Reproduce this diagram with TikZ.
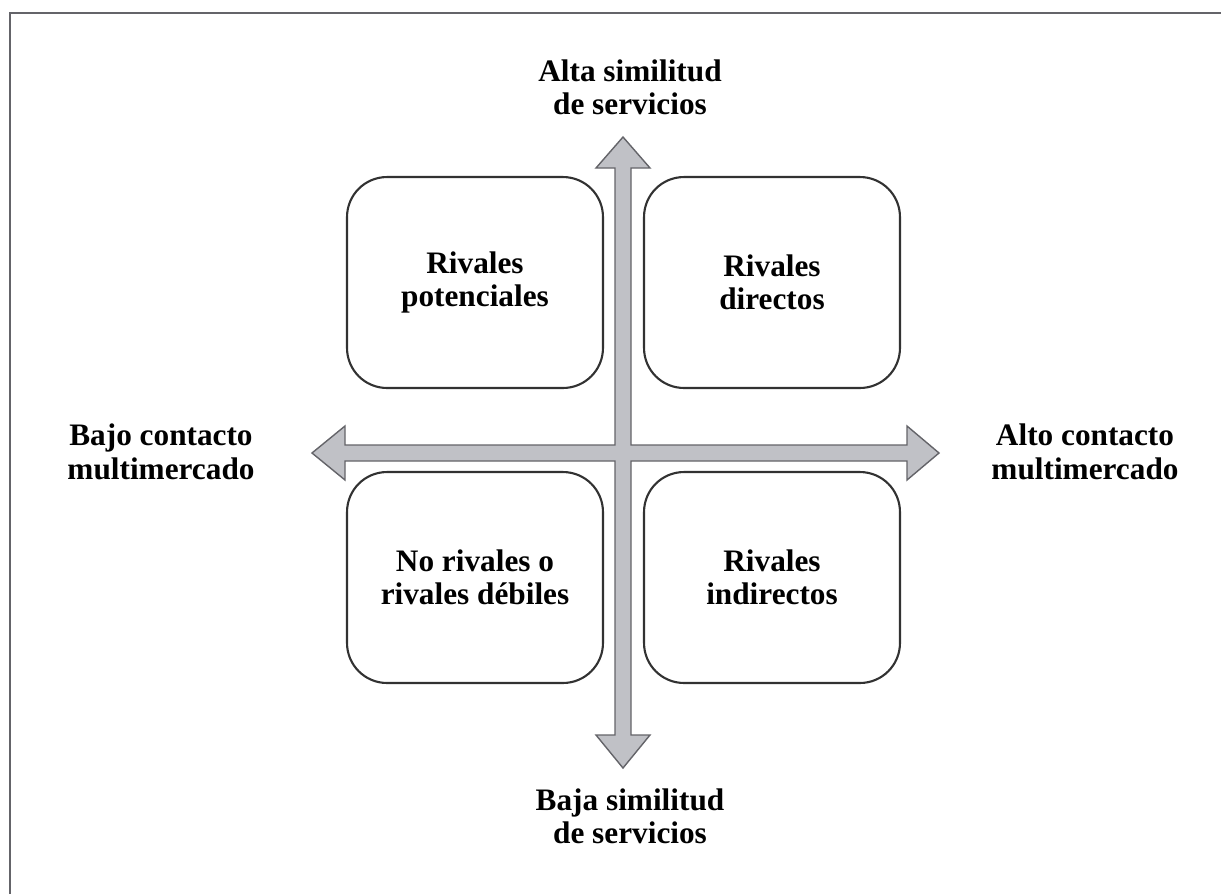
\documentclass[tikz,border=0pt]{standalone}
\usepackage{fontspec}
\setmainfont{Liberation Serif}
\usetikzlibrary{positioning}

\definecolor{axisfill}{RGB}{192,193,198}
\definecolor{axisline}{RGB}{100,100,105}
\definecolor{boxline}{RGB}{50,50,50}

\tikzset{
  quad/.style={draw=boxline, line width=1.2pt, rounded corners=0.8cm,
    minimum width=5.12cm, minimum height=4.22cm, align=center,
    font=\fontsize{17.8}{19}\selectfont\bfseries},
  axislabel/.style={align=center, font=\fontsize{17.8}{19}\selectfont\bfseries}
}

\begin{document}
\begin{tikzpicture}[x=0.02cm, y=-0.02cm]
		\useasboundingbox (0,0) rectangle (1221,894);
		% frame
		\draw[axisline, line width=1.3pt] (10,894) -- (10,13) -- (1221,13);
		% quadrants
		\node[quad] (pot) at (475,282.5) {Rivales\\potenciales};
		\node[quad] (dir) at (772,282.5) {Rivales\\directos};
		\node[quad] (deb) at (475,577.5) {No rivales o\\rivales d\'ebiles};
		\node[quad] (ind) at (772,577.5) {Rivales\\indirectos};
		% axes
		\draw[fill=axisfill, draw=axisline, line width=0.8pt, line join=miter]
			(623,137) -- (650,168) -- (631,168) -- (631,445) -- (907,445) -- (907,426)
			-- (939,453) -- (907,480) -- (907,461) -- (631,461) -- (631,735) -- (650,735)
			-- (623,768) -- (596,735) -- (615,735) -- (615,461) -- (345,461) -- (345,480)
			-- (312,453) -- (345,426) -- (345,445) -- (615,445) -- (615,168) -- (596,168)
			-- cycle;
		% axis labels
		\node[axislabel] (alta) at (630,87) {Alta similitud\\de servicios};
		\node[axislabel] (baja) at (630,816) {Baja similitud\\de servicios};
		\node[axislabel] (bajo) at (161,452) {Bajo contacto\\multimercado};
		\node[axislabel] (alto) at (1085,452) {Alto contacto\\multimercado};
\end{tikzpicture}
\end{document}
